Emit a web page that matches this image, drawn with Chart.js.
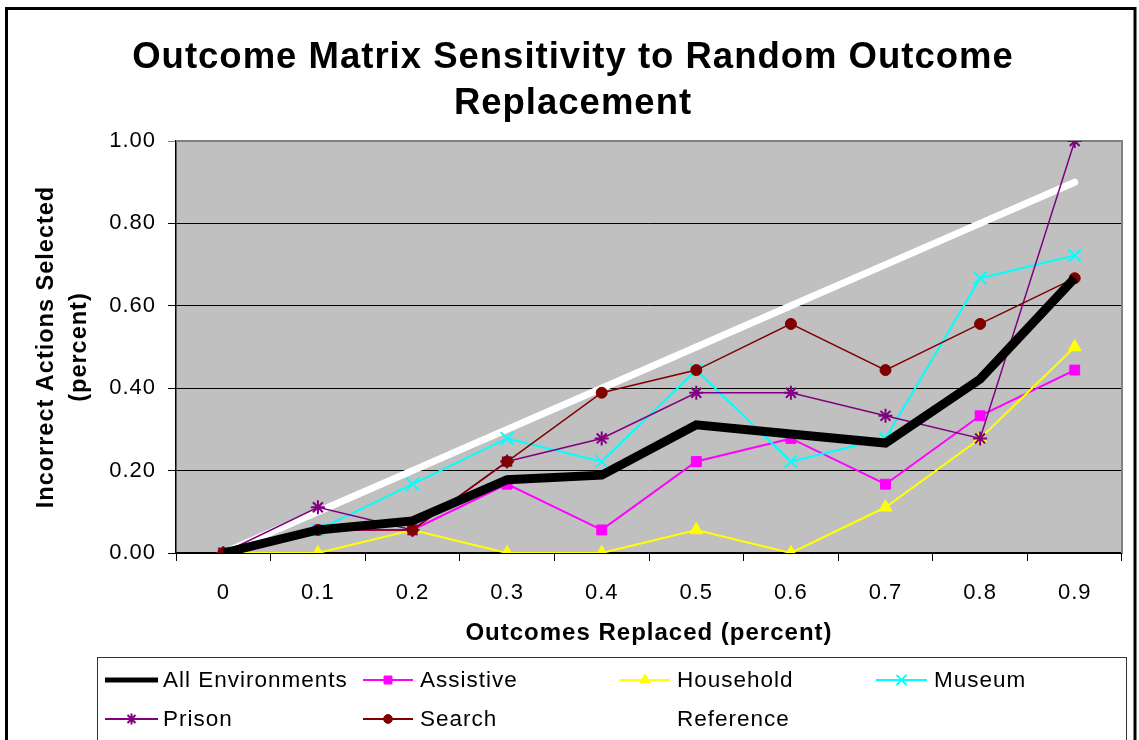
<!DOCTYPE html>
<html>
<head>
<meta charset="utf-8">
<title>Outcome Matrix Sensitivity</title>
<script src="https://cdn.jsdelivr.net/npm/chart.js@4.4.1/dist/chart.umd.min.js"></script>
<style>
  html, body { margin: 0; padding: 0; background: #fff; }
  #wrap { position: relative; width: 1139px; height: 740px; }
  canvas { display: block; }
</style>
</head>
<body>
<div id="wrap"><canvas id="chart" width="1139" height="740"></canvas></div>
<script>
// Fraction of outcomes replaced (x categories)
const categories = ['0', '0.1', '0.2', '0.3', '0.4', '0.5', '0.6', '0.7', '0.8', '0.9'];

// Fraction of incorrect actions selected, per environment
const allEnvironments = [0, 0.056, 0.078, 0.178, 0.189, 0.311, 0.289, 0.267, 0.422, 0.667];
const assistive       = [0, 0.056, 0.056, 0.167, 0.056, 0.222, 0.278, 0.167, 0.333, 0.444];
const household       = [0, 0,     0.056, 0,     0,     0.056, 0,     0.111, 0.278, 0.500];
const museum          = [0, 0.056, 0.167, 0.278, 0.222, 0.444, 0.222, 0.278, 0.667, 0.722];
const prison          = [0, 0.111, 0.056, 0.222, 0.278, 0.389, 0.389, 0.333, 0.278, 1.000];
const search          = [0, 0.056, 0.056, 0.222, 0.389, 0.444, 0.556, 0.444, 0.556, 0.667];
const reference       = [0, 0.1,   0.2,   0.3,   0.4,   0.5,   0.6,   0.7,   0.8,   0.9];

// Value axis tick positions
const yTicks = [0, 0.2, 0.4, 0.6, 0.8, 1.0];

const FONT = "'Liberation Sans', Arial, Helvetica, sans-serif";

const datasets = [
  { label: 'All Environments', data: allEnvironments, borderColor: '#000000', backgroundColor: '#000000',
    borderWidth: 9, pointRadius: 0, pointStyle: false, legendLineWidth: 5, order: 0 },
  { label: 'Assistive', data: assistive, borderColor: '#FF00FF', backgroundColor: '#FF00FF',
    borderWidth: 2, pointStyle: 'rect', pointRadius: 7, pointBorderWidth: 1, order: 5 },
  { label: 'Household', data: household, borderColor: '#FFFF00', backgroundColor: '#FFFF00',
    borderWidth: 2, pointStyle: 'triangle', pointRadius: 7.5, pointBorderWidth: 1, order: 4 },
  { label: 'Museum', data: museum, borderColor: '#00FFFF', backgroundColor: '#00FFFF',
    borderWidth: 2, pointStyle: 'crossRot', pointRadius: 9, pointBorderWidth: 2, order: 3 },
  { label: 'Prison', data: prison, borderColor: '#800080', backgroundColor: '#800080',
    borderWidth: 1.5, pointStyle: 'star', pointRadius: 7, pointBorderWidth: 2, order: 2 },
  { label: 'Search', data: search, borderColor: '#800000', backgroundColor: '#800000',
    borderWidth: 1.5, pointStyle: 'circle', pointRadius: 5.5, pointBorderWidth: 1, order: 1 },
  { label: 'Reference', data: reference, borderColor: '#FFFFFF', backgroundColor: '#FFFFFF',
    borderWidth: 7, pointRadius: 0, pointStyle: false, borderCapStyle: 'round', order: 9 }
];
datasets.forEach(d => {
  d.pointBackgroundColor = d.backgroundColor;
  d.pointBorderColor = d.borderColor;
  d.tension = 0;
  d.fill = false;
});

// Grey plot area, its outline, the outer frame and the two-row legend box
const decorations = {
  id: 'decorations',
  beforeDraw(chart) {
    const { ctx, chartArea: a } = chart;
    ctx.save();
    ctx.fillStyle = '#FFFFFF';
    ctx.fillRect(0, 0, chart.width, chart.height);
    ctx.fillStyle = '#C0C0C0';
    ctx.fillRect(a.left, a.top, a.right - a.left, a.bottom - a.top);
    ctx.restore();
    // slightly wider text set, applied to every label drawn afterwards
    if ('letterSpacing' in ctx) ctx.letterSpacing = '1px';
  },
  beforeDatasetsDraw(chart) {
    const { ctx, chartArea: a } = chart;
    ctx.save();
    ctx.strokeStyle = '#808080';
    ctx.lineWidth = 2;
    ctx.beginPath();
    ctx.moveTo(a.left, a.top);
    ctx.lineTo(a.right, a.top);
    ctx.lineTo(a.right, a.bottom);
    ctx.stroke();
    ctx.restore();
  },
  afterDraw(chart) {
    const ctx = chart.ctx;
    ctx.save();
    // outer frame
    ctx.strokeStyle = '#000000';
    ctx.lineWidth = 3;
    ctx.strokeRect(6.5, 8.5, 1128.5, 760);
    // legend frame
    ctx.lineWidth = 1;
    ctx.strokeStyle = '#333333';
    ctx.strokeRect(97.5, 657.5, 1029, 120);

    const cols = [
      { x0: 105, x1: 158, tx: 163 },
      { x0: 363, x1: 413, tx: 420 },
      { x0: 620, x1: 670, tx: 677 },
      { x0: 876, x1: 927, tx: 934 }
    ];
    const rows = [680, 719];
    const helpers = Chart.helpers;
    chart.data.datasets.forEach((ds, i) => {
      const c = cols[i % 4];
      const y = rows[Math.floor(i / 4)];
      ctx.save();
      ctx.strokeStyle = ds.borderColor;
      ctx.lineWidth = ds.legendLineWidth || Math.max(ds.borderWidth, 2);
      ctx.lineCap = 'butt';
      ctx.beginPath();
      ctx.moveTo(c.x0, y);
      ctx.lineTo(c.x1, y);
      ctx.stroke();
      if (ds.pointStyle && helpers && helpers.drawPoint) {
        ctx.fillStyle = ds.backgroundColor;
        ctx.strokeStyle = ds.borderColor;
        ctx.lineWidth = ds.pointBorderWidth || 1;
        helpers.drawPoint(ctx, {
          pointStyle: ds.pointStyle,
          radius: ds.pointRadius * 0.8,
          rotation: 0,
          borderWidth: ds.pointBorderWidth || 1
        }, (c.x0 + c.x1) / 2, y);
      }
      ctx.restore();
      ctx.fillStyle = '#000000';
      ctx.font = '22.5px ' + FONT;
      ctx.textAlign = 'left';
      ctx.textBaseline = 'middle';
      ctx.fillText(ds.label, c.tx, y + 1);
    });
    ctx.restore();
  }
};

new Chart(document.getElementById('chart'), {
  type: 'line',
  data: { labels: categories, datasets: datasets },
  plugins: [decorations],
  options: {
    responsive: false,
    animation: false,
    events: [],
    layout: { padding: { left: 24, right: 17, top: 10, bottom: 87 } },
    plugins: {
      legend: { display: false },
      tooltip: { enabled: false },
      title: {
        display: true,
        text: ['Outcome Matrix Sensitivity to Random Outcome', 'Replacement'],
        color: '#000000',
        font: { family: FONT, size: 36.5, weight: 'bold', lineHeight: 46 / 36.5 },
        padding: { top: 25, bottom: 14 }
      }
    },
    scales: {
      x: {
        type: 'category',
        offset: true,
        afterFit(scale) { scale.height = 100; },
        grid: { offset: true, drawOnChartArea: false, drawTicks: true, tickLength: 8, color: '#000000', lineWidth: 1 },
        border: { display: true, color: '#000000', width: 1.5 },
        ticks: { color: '#000000', padding: 19, maxRotation: 0, autoSkip: false,
          font: { family: FONT, size: 22 } },
        title: {
          display: true,
          text: 'Outcomes Replaced (percent)',
          color: '#000000',
          font: { family: FONT, size: 24, weight: 'bold', lineHeight: 1.2 },
          padding: { top: 0, bottom: 5 }
        }
      },
      y: {
        min: 0,
        max: 1,
        afterFit(scale) { scale.width = 152; },
        afterBuildTicks(scale) { scale.ticks = yTicks.map(v => ({ value: v })); },
        grid: {
          drawTicks: true, tickLength: 8, lineWidth: 1,
          color: c => (c.tick && c.tick.value === 1 ? '#808080' : '#000000')
        },
        border: { display: true, color: '#000000', width: 1.5 },
        ticks: { color: '#000000', padding: 12, font: { family: FONT, size: 22 },
          callback: v => Number(v).toFixed(2) },
        title: {
          display: true,
          text: ['Incorrect Actions Selected', '(percent)'],
          color: '#000000',
          font: { family: FONT, size: 23.5, weight: 'bold', lineHeight: 33 / 23.5 },
          padding: { top: 6, bottom: 0 }
        }
      }
    }
  }
});
</script>
</body>
</html>
